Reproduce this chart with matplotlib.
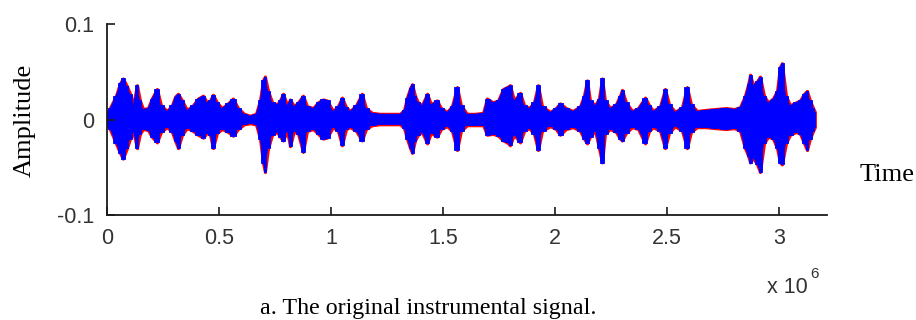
import numpy as np
import matplotlib.pyplot as plt
import matplotlib

matplotlib.rcParams.update({'font.size': 15.5, 'font.family': 'Liberation Sans'})

# envelope of the signal, time in units of 1e6 samples
t = [0.00, 0.013, 0.04, 0.058, 0.071, 0.089, 0.103, 0.116, 0.134, 0.147,
     0.161, 0.183, 0.20, 0.223, 0.241, 0.268, 0.29, 0.304, 0.317, 0.335,
     0.357, 0.384, 0.406, 0.429, 0.446, 0.46, 0.473, 0.491, 0.513, 0.54,
     0.5625, 0.585, 0.612, 0.638, 0.665, 0.683, 0.696, 0.705, 0.719, 0.737,
     0.759, 0.772, 0.786, 0.804, 0.817, 0.835, 0.853, 0.875, 0.893, 0.92,
     0.942, 0.964, 0.982, 1.009, 1.031, 1.049, 1.067, 1.085, 1.112, 1.138,
     1.156, 1.183, 1.219, 1.263, 1.308, 1.326, 1.339, 1.353, 1.362, 1.375,
     1.388, 1.406, 1.429, 1.446, 1.473, 1.491, 1.518, 1.540, 1.5625, 1.58,
     1.607, 1.643, 1.679, 1.696, 1.723, 1.746, 1.768, 1.786, 1.799, 1.817,
     1.844, 1.862, 1.884, 1.906, 1.924, 1.942, 1.978, 2.004, 2.022, 2.049,
     2.08, 2.112, 2.129, 2.143, 2.156, 2.179, 2.196, 2.21, 2.223, 2.246,
     2.272, 2.29, 2.299, 2.317, 2.344, 2.371, 2.402, 2.42, 2.438, 2.469,
     2.491, 2.509, 2.536, 2.567, 2.589, 2.607, 2.634, 2.67, 2.714, 2.763,
     2.80, 2.826, 2.848, 2.862, 2.871, 2.884, 2.902, 2.915, 2.933, 2.951,
     2.973, 2.991, 3.004, 3.013, 3.031, 3.049, 3.076, 3.094, 3.112, 3.125,
     3.138, 3.152, 3.16]

upper = [0.006, 0.012, 0.025, 0.038, 0.043, 0.035, 0.027, 0.015, 0.036, 0.020,
         0.011, 0.012, 0.022, 0.032, 0.015, 0.009, 0.015, 0.024, 0.027, 0.020,
         0.010, 0.015, 0.022, 0.025, 0.018, 0.020, 0.026, 0.018, 0.012, 0.017,
         0.022, 0.012, 0.006, 0.004, 0.006, 0.020, 0.041, 0.045, 0.030, 0.018,
         0.016, 0.020, 0.027, 0.015, 0.021, 0.014, 0.018, 0.025, 0.014, 0.012,
         0.018, 0.021, 0.020, 0.009, 0.014, 0.023, 0.013, 0.009, 0.015, 0.027,
         0.012, 0.007, 0.006, 0.006, 0.006, 0.010, 0.023, 0.033, 0.037, 0.025,
         0.018, 0.015, 0.027, 0.016, 0.020, 0.012, 0.008, 0.014, 0.034, 0.015,
         0.006, 0.006, 0.007, 0.022, 0.018, 0.020, 0.032, 0.034, 0.036, 0.020,
         0.028, 0.015, 0.012, 0.018, 0.036, 0.014, 0.008, 0.012, 0.017, 0.012,
         0.009, 0.014, 0.025, 0.041, 0.020, 0.015, 0.022, 0.043, 0.020, 0.012,
         0.016, 0.025, 0.031, 0.018, 0.009, 0.012, 0.023, 0.015, 0.009, 0.014,
         0.032, 0.016, 0.008, 0.013, 0.034, 0.016, 0.009, 0.010, 0.011, 0.012,
         0.011, 0.013, 0.025, 0.037, 0.047, 0.036, 0.040, 0.045, 0.025, 0.018,
         0.022, 0.030, 0.055, 0.059, 0.025, 0.015, 0.018, 0.020, 0.027, 0.030,
         0.020, 0.012, 0.008]

lower = [-0.006, -0.010, -0.025, -0.035, -0.041, -0.030, -0.020, -0.012, -0.030, -0.015,
         -0.010, -0.011, -0.018, -0.024, -0.013, -0.008, -0.013, -0.022, -0.030, -0.016,
         -0.009, -0.012, -0.016, -0.019, -0.014, -0.016, -0.030, -0.014, -0.010, -0.013,
         -0.017, -0.010, -0.005, -0.004, -0.005, -0.020, -0.045, -0.055, -0.030, -0.016,
         -0.013, -0.018, -0.022, -0.012, -0.028, -0.012, -0.015, -0.034, -0.012, -0.010,
         -0.015, -0.020, -0.019, -0.008, -0.012, -0.027, -0.010, -0.008, -0.012, -0.022,
         -0.010, -0.006, -0.005, -0.005, -0.005, -0.009, -0.020, -0.030, -0.035, -0.022,
         -0.016, -0.013, -0.025, -0.014, -0.018, -0.010, -0.007, -0.012, -0.032, -0.012,
         -0.006, -0.006, -0.006, -0.016, -0.015, -0.017, -0.022, -0.024, -0.027, -0.016,
         -0.024, -0.012, -0.009, -0.015, -0.032, -0.012, -0.007, -0.010, -0.016, -0.010,
         -0.008, -0.012, -0.020, -0.025, -0.018, -0.012, -0.030, -0.045, -0.015, -0.010,
         -0.013, -0.020, -0.022, -0.014, -0.008, -0.010, -0.025, -0.012, -0.008, -0.012,
         -0.030, -0.014, -0.007, -0.012, -0.030, -0.013, -0.008, -0.008, -0.009, -0.010,
         -0.009, -0.012, -0.030, -0.038, -0.045, -0.040, -0.047, -0.055, -0.025, -0.018,
         -0.020, -0.030, -0.045, -0.047, -0.025, -0.016, -0.013, -0.015, -0.025, -0.032,
         -0.020, -0.012, -0.008]

xticks = [0, 0.5, 1, 1.5, 2, 2.5, 3]
yticks = [-0.1, 0, 0.1]

fig = plt.figure(figsize=(9.16, 3.2), dpi=100)
ax = fig.add_axes([0.1168, 0.328, 0.786, 0.597])

# original signal (red) underneath, reconstructed (blue) on top
ax.fill_between(t, upper, lower, facecolor='red', edgecolor='red', linewidth=2.2)
ax.fill_between(t, upper, lower, facecolor='blue', edgecolor='none')
ax.fill_between(t, upper, lower, step='mid', facecolor='blue', edgecolor='blue', linewidth=0.6)

ax.set_xlim(0, 3.214)
ax.set_ylim(-0.1, 0.1)
ax.set_xticks(xticks)
ax.set_xticklabels(['0', '0.5', '1', '1.5', '2', '2.5', '3'])
ax.set_yticks(yticks)
ax.set_yticklabels(['-0.1', '0', '0.1'])
ax.tick_params(direction='in', length=6, width=1.2, colors='#1a1a1a', labelcolor='#333333', pad=9)
ax.spines['top'].set_visible(False)
ax.spines['right'].set_visible(False)
for s in ['left', 'bottom']:
    ax.spines[s].set_linewidth(1.3)
    ax.spines[s].set_color('#1a1a1a')

fig.text(0.027, 0.625, 'Amplitude', rotation=90, ha='center', va='center',
         family='Liberation Serif', fontsize=19)
fig.text(0.968, 0.453, 'Time', ha='center', va='center', family='Liberation Serif', fontsize=19)
fig.text(0.837, 0.103, 'x 10', ha='left', va='center', color='#333333', fontsize=15.5)
fig.text(0.885, 0.145, '6', ha='left', va='center', color='#333333', fontsize=11)
fig.text(0.467, 0.037, 'a. The original instrumental signal.', ha='center', va='center',
         family='Liberation Serif', fontsize=17.3)

plt.savefig('out.png', dpi=100)
